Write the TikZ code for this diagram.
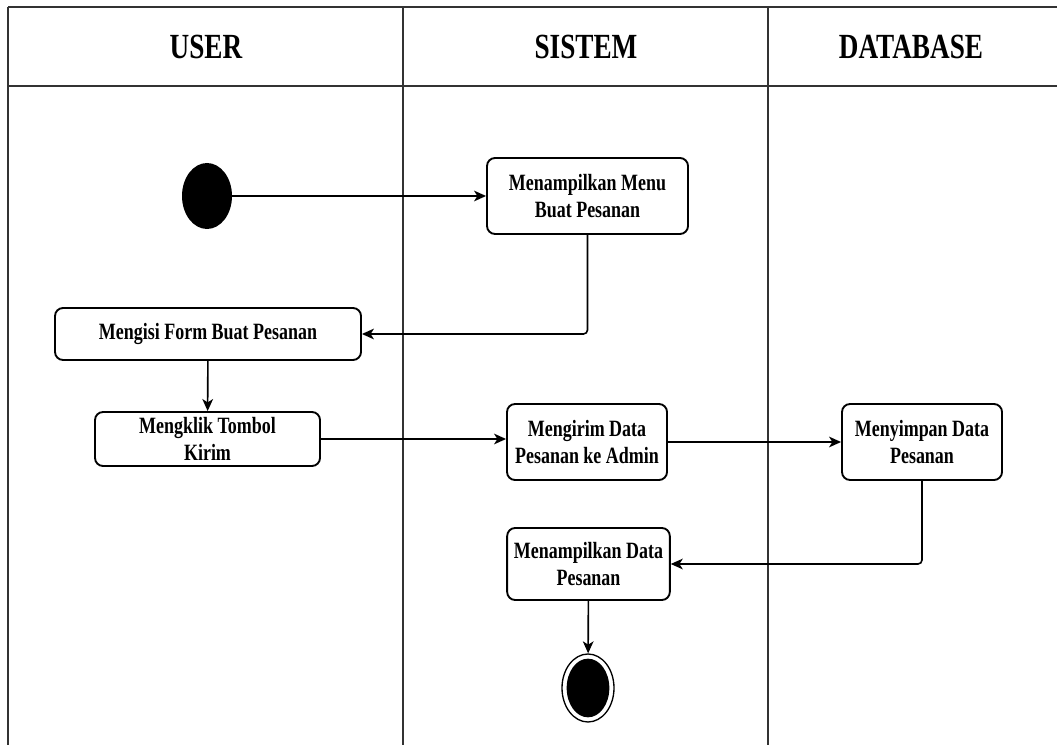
\documentclass[tikz,border=0pt]{standalone}
\usepackage{fontspec}
\setmainfont{Liberation Serif}[FakeStretch=0.77]
\usetikzlibrary{arrows.meta,shapes.geometric}

\begin{document}
\begin{tikzpicture}[x=0.75pt,y=-0.75pt,>={Stealth[length=9pt,width=8pt,inset=2.5pt]}]
            \useasboundingbox (0,0) rectangle (1057,745);
            % swimlanes
            \begin{scope}[draw=black!80]
                \draw[line width=2pt] (8,7) -- (1057,7);
                \draw[line width=2pt] (8,86) -- (1057,86);
                \draw[line width=1.6pt] (8,7) -- (8,745);
                \draw[line width=1.3pt] (403,7) -- (403,745);
                \draw[line width=1.3pt] (768,7) -- (768,745);
            \end{scope}
            \begin{scope}[every node/.style={font=\fontsize{26.5}{30}\selectfont\bfseries}]
                \node (user) at (206,47) {USER};
                \node (sistem) at (586,47) {SISTEM};
                \node (db) at (911,47) {DATABASE};
            \end{scope}
            % activities
            \begin{scope}[every node/.style={rectangle,rounded corners=6pt,draw,line width=1.4pt,align=center,inner sep=2pt,font=\fontsize{17.5}{20}\selectfont\bfseries}]
                \node[minimum width=150.75pt,minimum height=57pt] (menu) at (587.5,196) {Menampilkan Menu\\Buat Pesanan};
                \node[minimum width=229.5pt,minimum height=39pt] (form) at (208,334) {Mengisi Form Buat Pesanan};
                \node[minimum width=168.75pt,minimum height=40.5pt] (klik) at (207.5,439) {Mengklik Tombol\\Kirim};
                \node[minimum width=120pt,minimum height=57pt] (kirim) at (587,442) {Mengirim Data\\Pesanan ke Admin};
                \node[minimum width=120pt,minimum height=57pt] (simpan) at (922,442) {Menyimpan Data\\Pesanan};
                \node[minimum width=122pt,minimum height=54pt] (tampil) at (588.5,564) {Menampilkan Data\\Pesanan};
            \end{scope}
            \node[ellipse,fill=black,minimum width=37.5pt,minimum height=49.5pt,inner sep=0pt] (start) at (207,196) {};
            \node[ellipse,draw,line width=1pt,minimum width=39pt,minimum height=51pt,inner sep=0pt] (stop) at (588,688) {};
            \fill (stop.center) ellipse [x radius=16pt,y radius=22pt];
            % flow
            \begin{scope}[every path/.style={->,line width=1.2pt,rounded corners=3pt}]
                \draw (start) -- (menu);
                \draw (menu.south) |- (form.east);
                \draw (form) -- (klik);
                \draw (klik.east) -- (klik.east -| kirim.west);
                \draw (kirim) -- (simpan);
                \draw (simpan.south) |- (tampil.east);
                \draw (tampil) -- (stop);
            \end{scope}
        \end{tikzpicture}
\end{document}
